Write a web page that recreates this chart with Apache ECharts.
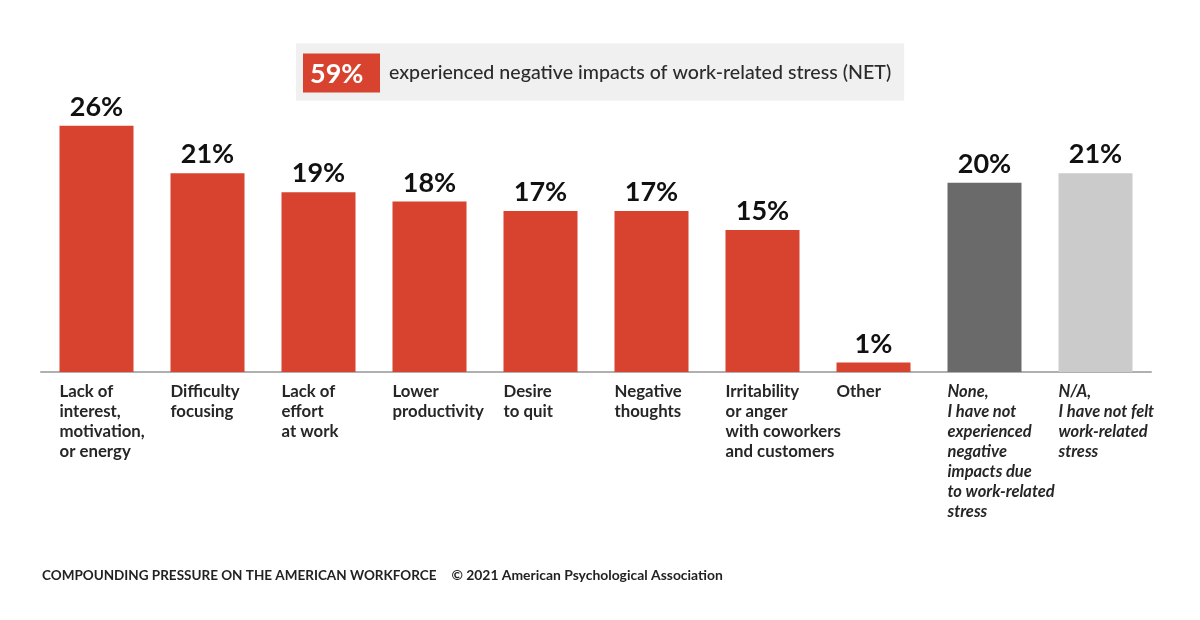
<!DOCTYPE html>
<html>
<head>
<meta charset="utf-8">
<script src="https://cdn.jsdelivr.net/npm/echarts@6/dist/echarts.min.js"></script>
<style>
html,body{margin:0;padding:0;background:#fff;}
#chart{width:1200px;height:620px;}
</style>
</head>
<body>
<div id="chart"></div>
<script>
const categories = [
  "Lack of\ninterest,\nmotivation,\nor energy",
  "Difficulty\nfocusing",
  "Lack of\neffort\nat work",
  "Lower\nproductivity",
  "Desire\nto quit",
  "Negative\nthoughts",
  "Irritability\nor anger\nwith coworkers\nand customers",
  "Other",
  "None,\nI have not\nexperienced\nnegative\nimpacts due\nto work-related\nstress",
  "N/A,\nI have not felt\nwork-related\nstress"
];
const values = [26, 21, 19, 18, 17, 17, 15, 1, 20, 21];
const barGroups = ["impact","impact","impact","impact","impact","impact","impact","impact","none","na"];
const italicCats = [false,false,false,false,false,false,false,false,true,true];
const netValue = "59%";
const netText = "experienced negative impacts of work-related stress (NET)";
const footerBold = "COMPOUNDING PRESSURE ON THE AMERICAN WORKFORCE";
const footerText = "© 2021 American Psychological Association";

const colorMap = {impact: "#d8432f", none: "#6a6a6a", na: "#cbcbcb"};
const font = "Lato, 'Open Sans', sans-serif";

const chart = echarts.init(document.getElementById('chart'), null, {renderer: 'canvas'});
chart.setOption({
  animation: false,
  backgroundColor: '#ffffff',
  title: [
    {
      text: '{n|' + netValue + '}{t|' + netText + '}',
      left: 296, top: 42,
      backgroundColor: '#f0f0f0',
      padding: [10, 13, 8, 7],
      textStyle: {
        rich: {
          n: {backgroundColor: '#d8432f', color: '#ffffff', fontSize: 27, fontWeight: 'bold',
              fontFamily: font, padding: [7, 6, 5, 7], lineHeight: 42, width: 64},
          t: {color: '#2b2b2b', fontSize: 19.6, fontFamily: font, fontWeight: 500, padding: [0, 0, 0, 9]}
        }
      }
    },
    {
      text: '{b|' + footerBold + '}{r|' + footerText + '}',
      left: 42, top: 569, padding: 0,
      textStyle: {
        rich: {
          b: {color: '#222', fontSize: 13.5, fontWeight: 'bold', fontFamily: font, padding: [0, 15, 0, 0]},
          r: {color: '#222', fontSize: 13.9, fontFamily: font}
        }
      }
    }
  ],
  grid: {left: 41, right: 49, top: 88, bottom: 248},
  xAxis: {
    type: 'category',
    data: categories,
    axisLine: {show: true, lineStyle: {color: '#b0b0b0', width: 2}},
    axisTick: {show: false},
    axisLabel: {
      interval: 0,
      margin: 10,
      align: 'center',
      formatter: function (v, i) {
        const key = italicCats[i] ? 'i' : 'a';
        return v.split('\n').map(s => '{' + key + '|' + s + '}').join('\n');
      },
      rich: {
        a: {width: 74, align: 'left', fontSize: 16.8, lineHeight: 20, fontWeight: 'bold', color: '#262626', fontFamily: font},
        i: {width: 74, align: 'left', fontSize: 16.5, lineHeight: 20, fontWeight: 'bold', fontStyle: 'italic', color: '#262626', fontFamily: font}
      }
    }
  },
  yAxis: {
    type: 'value', min: 0, max: 30, show: false,
    splitLine: {show: false}
  },
  series: [{
    type: 'bar',
    barWidth: 74,
    data: values.map((v, i) => ({value: v, itemStyle: {color: colorMap[barGroups[i]]}})),
    label: {
      show: true, position: 'top', distance: 5,
      formatter: '{c}%',
      fontSize: 27, fontWeight: 'bold', color: '#111', fontFamily: font
    }
  }]
});
</script>
</body>
</html>
